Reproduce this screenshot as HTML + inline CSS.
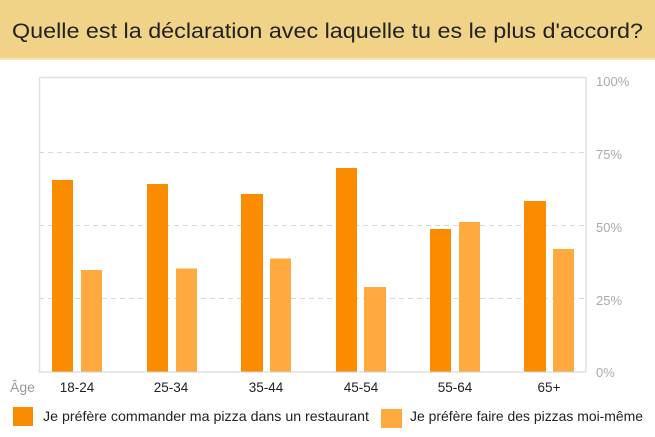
<!DOCTYPE html>
<html><head><meta charset="utf-8"><style>
html,body{margin:0;padding:0;background:#fff;}
svg{display:block;font-family:"Liberation Sans",sans-serif;}
</style></head><body>
<svg width="655" height="437" viewBox="0 0 655 437" xmlns="http://www.w3.org/2000/svg">
<rect x="0" y="0" width="655" height="58" fill="#f0d387"/>
<rect x="0" y="58" width="655" height="2" fill="#f7e6bc"/>
<text x="12" y="38" font-size="21" fill="#222" textLength="631" lengthAdjust="spacingAndGlyphs">Quelle est la déclaration avec laquelle tu es le plus d'accord?</text>
<g stroke="#d9d9d9" stroke-width="1" stroke-dasharray="5,4">
<line x1="39" y1="152.5" x2="586" y2="152.5"/>
<line x1="39" y1="225.5" x2="586" y2="225.5"/>
<line x1="39" y1="298.5" x2="586" y2="298.5"/>
</g>
<g stroke="#e0e0e0" stroke-width="1.5" fill="none">
<polyline points="39.5,372 39.5,77.5 586,77.5 586,372"/>
</g>
<g fill="#fb8c00">
<rect x="52" y="180" width="21" height="192"/>
<rect x="147" y="184" width="21" height="188"/>
<rect x="241" y="194" width="22" height="178"/>
<rect x="336" y="168" width="21" height="204"/>
<rect x="430" y="229" width="21" height="143"/>
<rect x="524" y="201" width="22" height="171"/>
</g>
<g fill="#ffa93f">
<rect x="81" y="270" width="21" height="102"/>
<rect x="176" y="268.5" width="21" height="103.5"/>
<rect x="270" y="258.5" width="21" height="113.5"/>
<rect x="364" y="287" width="22" height="85"/>
<rect x="459" y="222" width="21" height="150"/>
<rect x="553" y="249" width="21" height="123"/>
</g>
<line x1="39" y1="372" x2="586" y2="372" stroke="#d0d0d0" stroke-width="1"/>
<g font-size="13" fill="#aaa">
<text x="596" y="86">100%</text>
<text x="596" y="159">75%</text>
<text x="596" y="232">50%</text>
<text x="596" y="305">25%</text>
<text x="596" y="377">0%</text>
</g>
<text x="10" y="392" font-size="14" fill="#999">Âge</text>
<g font-size="13.5" fill="#222" text-anchor="middle">
<text x="77" y="392">18-24</text>
<text x="171" y="392">25-34</text>
<text x="266" y="392">35-44</text>
<text x="361" y="392">45-54</text>
<text x="455" y="392">55-64</text>
<text x="549" y="392">65+</text>
</g>
<rect x="13" y="407" width="20" height="19" fill="#fb8c00"/>
<text x="43" y="421" font-size="14" fill="#222" textLength="326" lengthAdjust="spacingAndGlyphs">Je préfère commander ma pizza dans un restaurant</text>
<rect x="381" y="409" width="21" height="19" fill="#ffa93f"/>
<text x="410" y="421" font-size="14" fill="#222" textLength="233" lengthAdjust="spacingAndGlyphs">Je préfère faire des pizzas moi-même</text>
</svg>
</body></html>
